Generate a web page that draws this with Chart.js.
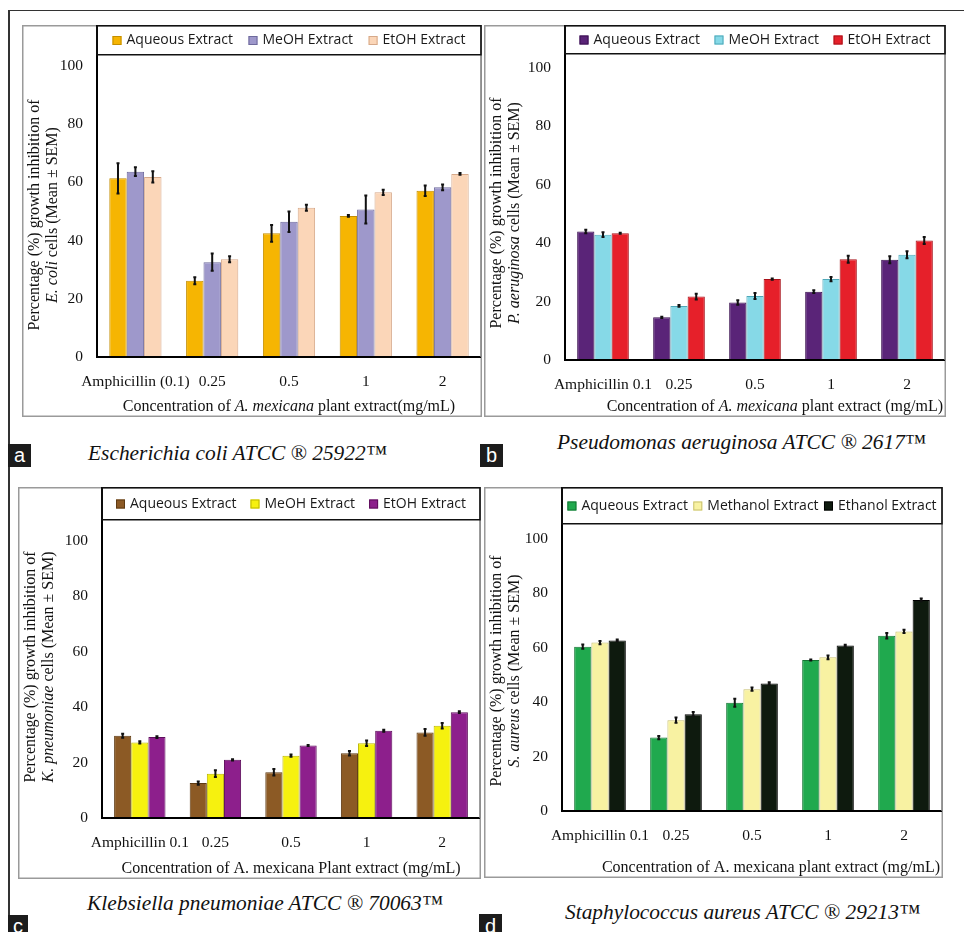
<!DOCTYPE html>
<html>
<head>
<meta charset="utf-8">
<script src="https://cdn.jsdelivr.net/npm/chart.js@4.4.0/dist/chart.umd.min.js"></script>
<style>
  body { margin: 0; background: #fff; }
  #page { position: relative; width: 964px; height: 932px; overflow: hidden; background: #fff; }
  .panel { position: absolute; }
  .cap { position: absolute; font: italic 21.4px "Liberation Serif", "Times New Roman", serif; white-space: nowrap; line-height: 24px; color: #111; }
  .tag { position: absolute; background: #1c1c1c; color: #fff; font: 20px "Liberation Sans", Arial, sans-serif; text-align: center; }
  .rule { position: absolute; background: #333; }
</style>
</head>
<body>
<div id="page">
  <div class="rule" style="left:8px;top:10px;width:956px;height:1px"></div>
  <div class="rule" style="left:8px;top:10px;width:2px;height:922px"></div>

  <canvas id="chartA" class="panel" width="460" height="392" style="left:22px;top:25px"></canvas>
  <canvas id="chartB" class="panel" width="462" height="392" style="left:484px;top:25px"></canvas>
  <canvas id="chartC" class="panel" width="463" height="392" style="left:18px;top:487px"></canvas>
  <canvas id="chartD" class="panel" width="459" height="391" style="left:484px;top:487px"></canvas>

  <div class="tag" style="left:8px;top:444px;width:23px;height:23px;line-height:22px">a</div>
  <div class="cap" style="left:88px;top:441px">Escherichia coli ATCC ® 25922™</div>
  <div class="tag" style="left:480px;top:444px;width:23px;height:23px;line-height:22px">b</div>
  <div class="cap" style="left:557px;top:430px">Pseudomonas aeruginosa ATCC ® 2617™</div>
  <div class="tag" style="left:8px;top:915px;width:20px;height:20px;line-height:22px">c</div>
  <div class="cap" style="left:87px;top:891px">Klebsiella pneumoniae ATCC ® 70063™</div>
  <div class="tag" style="left:479px;top:914px;width:23px;height:20px;line-height:24px">d</div>
  <div class="cap" style="left:565px;top:900px">Staphylococcus aureus ATCC ® 29213™</div>
</div>

<script>
// categories and series names
const categoriesA = ["Amphicillin (0.1)", "0.25", "0.5", "1", "2"];
const categoriesBCD = ["Amphicillin 0.1", "0.25", "0.5", "1", "2"];
const seriesShort = ["Aqueous Extract", "MeOH Extract", "EtOH Extract"];
const seriesLong = ["Aqueous Extract", "Methanol Extract", "Ethanol Extract"];
const yTickValues = [0, 20, 40, 60, 80, 100];

// a: E. coli
const ecoliAqueous = [61.4, 26.2, 42.5, 48.5, 57.1];
const ecoliAqueousErr = [5.2, 1.2, 2.9, 0.3, 1.8];
const ecoliMeoh = [63.7, 32.6, 46.5, 50.7, 58.3];
const ecoliMeohErr = [1.5, 3.0, 3.5, 4.8, 1.0];
const ecoliEtoh = [61.9, 33.6, 51.3, 56.6, 62.9];
const ecoliEtohErr = [1.9, 1.0, 1.0, 0.9, 0.3];

// b: P. aeruginosa
const paeruAqueous = [44.0, 14.6, 19.7, 23.4, 34.3];
const paeruAqueousErr = [0.6, 0.2, 0.8, 0.5, 1.2];
const paeruMeoh = [42.9, 18.5, 21.9, 27.7, 36.0];
const paeruMeohErr = [0.8, 0.3, 1.0, 0.7, 1.2];
const paeruEtoh = [43.4, 21.7, 27.7, 34.5, 40.9];
const paeruEtohErr = [0.2, 1.0, 0.2, 1.2, 1.2];

// c: K. pneumoniae
const kpneuAqueous = [29.7, 12.6, 16.5, 23.4, 30.9];
const kpneuAqueousErr = [0.7, 0.6, 1.2, 0.8, 1.2];
const kpneuMeoh = [27.3, 16.0, 22.5, 27.0, 33.3];
const kpneuMeohErr = [0.4, 1.2, 0.4, 1.0, 1.0];
const kpneuEtoh = [29.2, 21.0, 26.2, 31.5, 38.2];
const kpneuEtohErr = [0.3, 0.2, 0.2, 0.4, 0.3];

// d: S. aureus
const saurAqueous = [60.4, 27.0, 39.8, 55.5, 64.4];
const saurAqueousErr = [0.8, 0.6, 1.5, 0.2, 1.0];
const saurMeoh = [61.9, 33.4, 44.8, 56.5, 66.0];
const saurMeohErr = [0.6, 1.0, 0.6, 0.7, 0.6];
const saurEtoh = [62.7, 35.6, 46.9, 60.8, 77.6];
const saurEtohErr = [0.3, 0.8, 0.4, 0.3, 0.5];

const SERIF = '"Liberation Serif", "Times New Roman", serif';
const SANS = '"Open Sans", "Liberation Sans", sans-serif';
const yLine1 = [["Percentage (%) growth inhibition of", false]];

const panels = [
  {
    canvas: "chartA", labels: categoriesA, names: seriesShort,
    values: [ecoliAqueous, ecoliMeoh, ecoliEtoh],
    errors: [ecoliAqueousErr, ecoliMeohErr, ecoliEtohErr],
    colors: ["#F6B502", "#9E98CB", "#FBD6B8"],
    borders: ["#C48E00", "#6E6A9C", "#D6A98A"],
    yMax: 114.1, yWidth: 75, xHeight: 60, legendH: 29, yTitleY: 190,
    yTitle2: [["E. coli", true], [" cells (Mean ± SEM)", false]],
    xTitle: [["Concentration of ", false], ["A. mexicana", true], [" plant extract(mg/mL)", false]],
    xAlign: "center"
  },
  {
    canvas: "chartB", labels: categoriesBCD, names: seriesShort,
    values: [paeruAqueous, paeruMeoh, paeruEtoh],
    errors: [paeruAqueousErr, paeruMeohErr, paeruEtohErr],
    colors: ["#5A2478", "#86D9E7", "#E6202A"],
    borders: ["#3A1050", "#4FA8B8", "#A8121A"],
    yMax: 114.7, yWidth: 81, xHeight: 57, legendH: 28, yTitleY: 188,
    yTitle2: [["P. aeruginosa", true], [" cells (Mean ± SEM)", false]],
    xTitle: [["Concentration of ", false], ["A. mexicana", true], [" plant extract (mg/mL)", false]],
    xAlign: "right"
  },
  {
    canvas: "chartC", labels: categoriesBCD, names: seriesShort,
    values: [kpneuAqueous, kpneuMeoh, kpneuEtoh],
    errors: [kpneuAqueousErr, kpneuMeohErr, kpneuEtohErr],
    colors: ["#8C5A25", "#F6F10F", "#8D1F8C"],
    borders: ["#5E3A12", "#BDB700", "#5E0E5C"],
    yMax: 119.5, yWidth: 84, xHeight: 61, legendH: 32, yTitleY: 180,
    yTitle2: [["K. pneumoniae", true], [" cells (Mean ± SEM)", false]],
    xTitle: [["Concentration of A. mexicana Plant extract (mg/mL)", false]],
    xAlign: "center"
  },
  {
    canvas: "chartD", labels: categoriesBCD, names: seriesLong,
    values: [saurAqueous, saurMeoh, saurEtoh],
    errors: [saurAqueousErr, saurMeohErr, saurEtohErr],
    colors: ["#20A94E", "#F8F2A2", "#0E1A0E"],
    borders: ["#137533", "#C8C070", "#000000"],
    yMax: 119.1, yWidth: 78, xHeight: 67, legendH: 36, yTitleY: 184,
    yTitle2: [["S. aureus", true], [" cells (Mean ± SEM)", false]],
    xTitle: [["Concentration of A. mexicana plant extract (mg/mL)", false]],
    xAlign: "right"
  }
];

function richWidth(ctx, segs, size) {
  let w = 0;
  segs.forEach(([t, it]) => {
    ctx.font = (it ? "italic " : "") + size + "px " + SERIF;
    w += ctx.measureText(t).width;
  });
  return w;
}

function drawRich(ctx, segs, x, y, align, size) {
  const total = richWidth(ctx, segs, size);
  let cx = align === "center" ? x - total / 2 : align === "right" ? x - total : x;
  ctx.textAlign = "left";
  ctx.textBaseline = "middle";
  ctx.fillStyle = "#111";
  segs.forEach(([t, it]) => {
    ctx.font = (it ? "italic " : "") + size + "px " + SERIF;
    ctx.fillText(t, cx, y);
    cx += ctx.measureText(t).width;
  });
}

const panelDecor = {
  id: "panelDecor",
  beforeDraw(chart) {
    const ctx = chart.ctx;
    ctx.save();
    ctx.fillStyle = "#fff";
    ctx.fillRect(0, 0, chart.width, chart.height);
    ctx.strokeStyle = "#9a9a9a";
    ctx.lineWidth = 1.5;
    ctx.strokeRect(0.75, 0.75, chart.width - 1.5, chart.height - 1.5);
    ctx.restore();
  },
  afterDatasetsDraw(chart) {
    const ctx = chart.ctx;
    const yScale = chart.scales.y;
    ctx.save();
    ctx.strokeStyle = "#111";
    ctx.lineWidth = 2;
    chart.data.datasets.forEach((ds, i) => {
      const meta = chart.getDatasetMeta(i);
      meta.data.forEach((bar, j) => {
        const e = ds.errors[j];
        const v = ds.data[j];
        const top = yScale.getPixelForValue(v + e);
        const bot = yScale.getPixelForValue(v - e);
        ctx.beginPath();
        ctx.moveTo(bar.x, top);
        ctx.lineTo(bar.x, bot);
        ctx.moveTo(bar.x - 1.5, top);
        ctx.lineTo(bar.x + 1.5, top);
        ctx.moveTo(bar.x - 1.5, bot);
        ctx.lineTo(bar.x + 1.5, bot);
        ctx.stroke();
      });
    });
    ctx.restore();
  },
  afterDraw(chart) {
    const ctx = chart.ctx;
    const p = chart.options.plugins.panelDecor;
    const a = chart.chartArea;
    ctx.save();
    // axes
    ctx.strokeStyle = "#000";
    ctx.lineWidth = 2;
    ctx.beginPath();
    ctx.moveTo(a.left, a.top);
    ctx.lineTo(a.left, a.bottom);
    ctx.lineTo(a.right, a.bottom);
    ctx.stroke();
    ctx.strokeStyle = "#8a8a8a";
    ctx.lineWidth = 1.5;
    ctx.beginPath();
    ctx.moveTo(a.right, a.top);
    ctx.lineTo(a.right, a.bottom);
    ctx.stroke();
    // legend box
    ctx.strokeStyle = "#111";
    ctx.lineWidth = 1.5;
    ctx.strokeRect(a.left, a.top + 0.75, a.right - a.left, p.legendH);
    ctx.font = "14px " + SANS;
    const sq = 9, gapTxt = 5;
    const widths = chart.data.datasets.map(ds => sq + gapTxt + ctx.measureText(ds.label).width);
    const sum = widths.reduce((s, w) => s + w, 0);
    const gap = (a.right - a.left - sum) / (widths.length + 1);
    const ly = a.top + p.legendH / 2 + 1;
    let lx = a.left + gap;
    chart.data.datasets.forEach((ds, i) => {
      ctx.fillStyle = ds.backgroundColor;
      ctx.fillRect(lx, ly - sq / 2, sq, sq);
      ctx.strokeStyle = ds.borderColor;
      ctx.lineWidth = 1;
      ctx.strokeRect(lx + 0.5, ly - sq / 2 + 0.5, sq - 1, sq - 1);
      ctx.fillStyle = "#1a1a1a";
      ctx.textAlign = "left";
      ctx.textBaseline = "middle";
      ctx.fillText(ds.label, lx + sq + gapTxt, ly);
      lx += widths[i] + gap;
    });
    // y title
    ctx.save();
    ctx.translate(13, p.yTitleY);
    ctx.rotate(-Math.PI / 2);
    drawRich(ctx, yLine1, 0, 0, "center", 16);
    ctx.restore();
    ctx.save();
    ctx.translate(31, p.yTitleY);
    ctx.rotate(-Math.PI / 2);
    drawRich(ctx, p.yTitle2, 0, 0, "center", 16);
    ctx.restore();
    // x title
    const tx = p.xAlign === "right" ? a.right - 2 : (a.left + a.right) / 2;
    drawRich(ctx, p.xTitle, tx, chart.height - 10, p.xAlign, 16);
    ctx.restore();
  }
};

panels.forEach(p => {
  const datasets = p.names.map((name, i) => ({
    label: name,
    data: p.values[i],
    errors: p.errors[i],
    backgroundColor: p.colors[i],
    borderColor: p.borders[i],
    borderWidth: 1,
    barPercentage: 1.0,
    categoryPercentage: 0.68
  }));

  new Chart(document.getElementById(p.canvas).getContext("2d"), {
    type: "bar",
    data: { labels: p.labels, datasets: datasets },
    plugins: [panelDecor],
    options: {
      responsive: false,
      animation: false,
      layout: { padding: { top: 0, right: 1, left: 0, bottom: 0 } },
      plugins: {
        legend: { display: false },
        tooltip: { enabled: false },
        panelDecor: { legendH: p.legendH, yTitleY: p.yTitleY, yTitle2: p.yTitle2, xTitle: p.xTitle, xAlign: p.xAlign }
      },
      scales: {
        x: {
          grid: { display: false, drawTicks: false },
          border: { display: false },
          ticks: {
            autoSkip: false, maxRotation: 0, padding: 16, color: "#111",
            font: { family: SERIF, size: 15.5 }
          },
          afterFit(scale) { scale.height = p.xHeight; }
        },
        y: {
          min: 0, max: p.yMax,
          grid: { display: false, drawTicks: false },
          border: { display: false },
          ticks: {
            stepSize: 20, padding: 14, color: "#111",
            font: { family: SERIF, size: 15.5 }
          },
          afterBuildTicks(scale) {
            scale.ticks = yTickValues.map(v => ({ value: v }));
          },
          afterFit(scale) {
            scale.width = p.yWidth;
            scale.paddingTop = 0;
            scale.paddingBottom = 0;
          }
        }
      }
    }
  });
});
</script>
</body>
</html>
